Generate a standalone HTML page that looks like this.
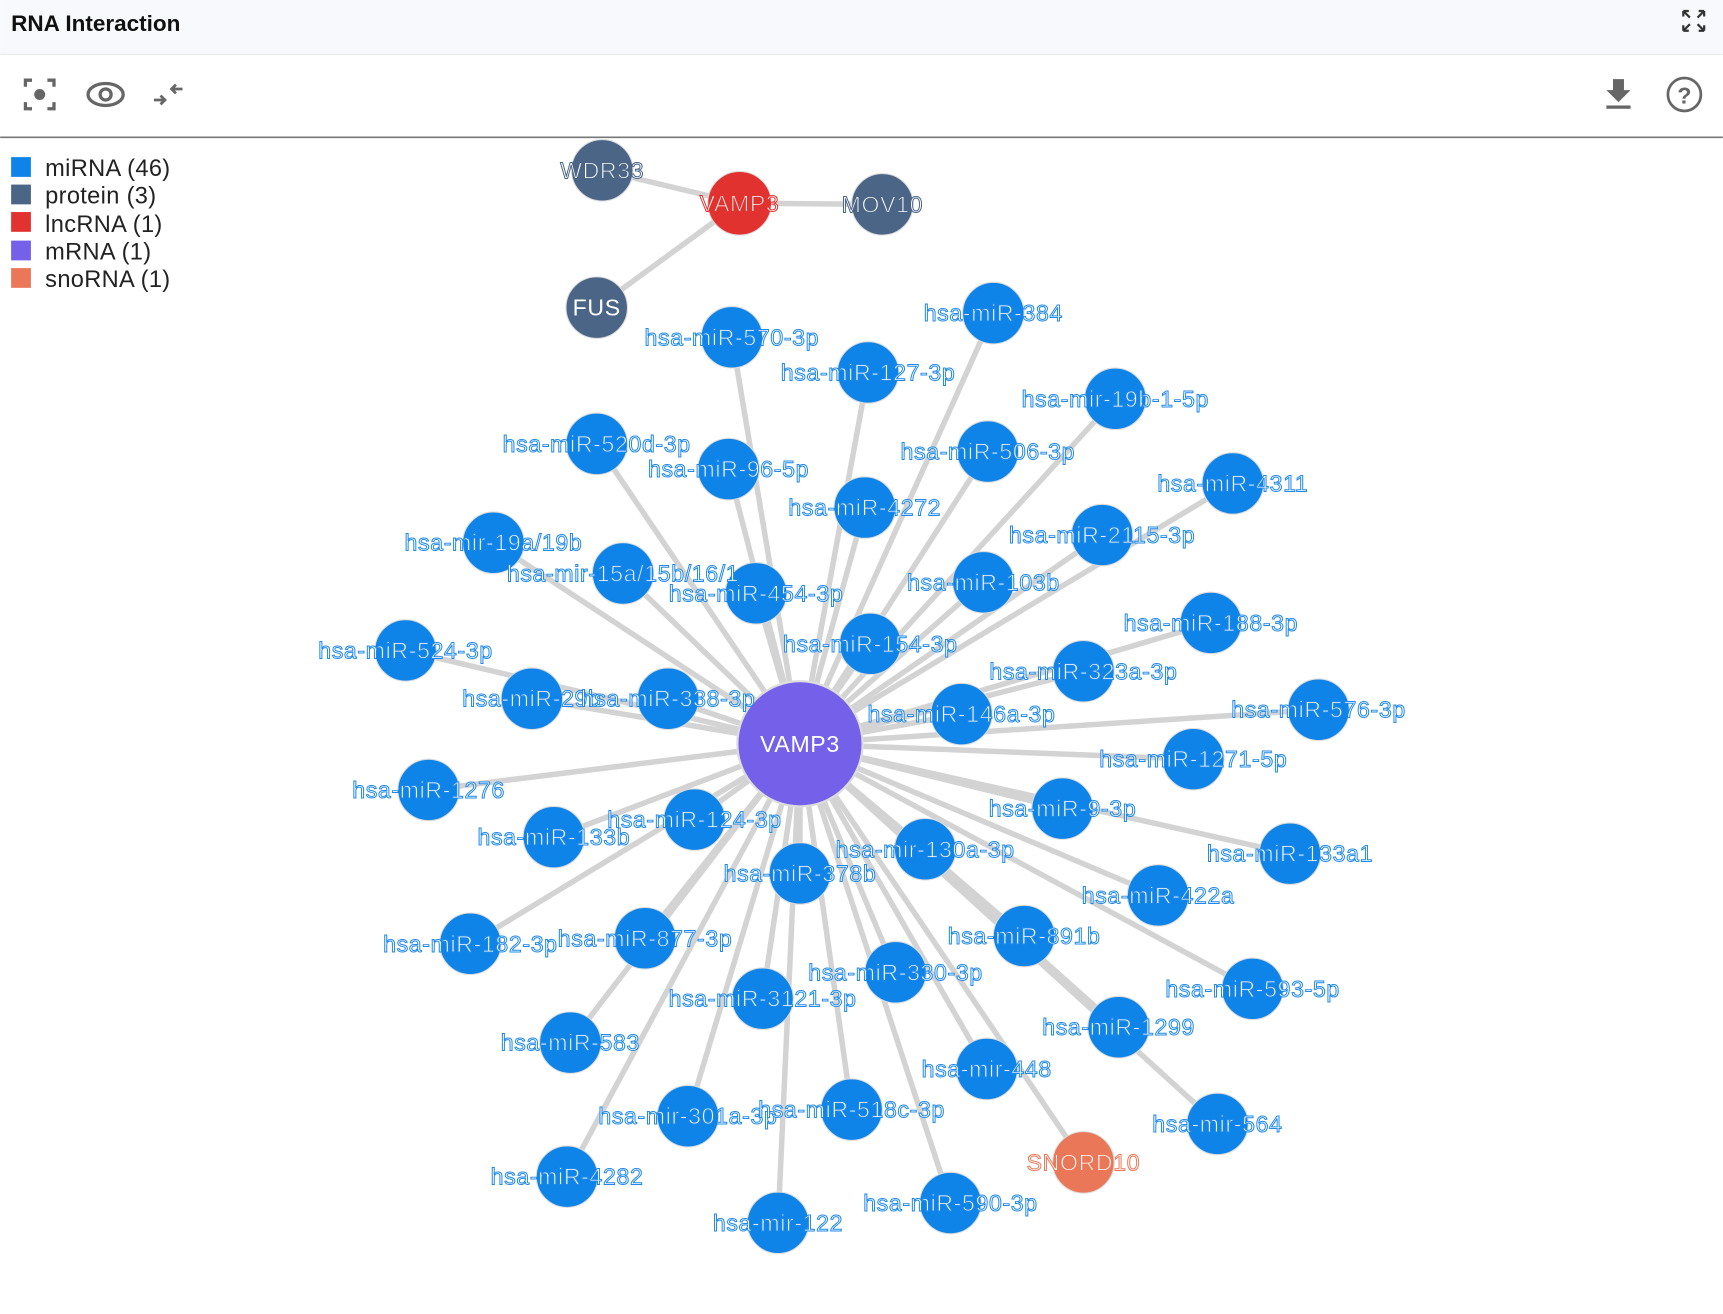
<!DOCTYPE html>
<html><head><meta charset="utf-8"><style>
html,body{margin:0;padding:0;background:#fff;width:1723px;height:1314px;overflow:hidden}
svg{display:block}
text{font-family:"Liberation Sans",Arial,sans-serif}
.ml{font-size:21px;letter-spacing:0.6px;fill:#fff;stroke:#1f88ea;stroke-width:0.9px;text-anchor:middle;dominant-baseline:central}
.e{stroke:#d3d3d3;stroke-width:5}
</style></head><body>
<svg width="1723" height="1314" viewBox="0 0 1568 1196" xmlns="http://www.w3.org/2000/svg">
<rect x="0" y="0" width="1568" height="49" fill="#f7f9fd"/>
<line x1="0" y1="49.5" x2="1568" y2="49.5" stroke="#e3e6ec"/>
<text x="10" y="28" font-size="20.5" font-weight="bold" fill="#111">RNA Interaction</text>
<g stroke="#333" stroke-width="2" fill="none">
<path d="M1532 10 l6 6 M1532 10 h5 M1532 10 v5 M1551 10 l-6 6 M1551 10 h-5 M1551 10 v5 M1532 28 l6 -6 M1532 28 h5 M1532 28 v-5 M1551 28 l-6 -6 M1551 28 h-5 M1551 28 v-5"/>
</g>
<line x1="0" y1="125" x2="1568" y2="125" stroke="#777" stroke-width="1.5"/>
<g stroke="#666" stroke-width="3" fill="none">
<path d="M23 79 v-6 h6 M43 73 h6 v6 M49 93 v6 h-6 M29 99 h-6 v-6"/>
<ellipse cx="96" cy="86" rx="16" ry="10"/>
<circle cx="96" cy="86" r="5"/>
<path d="M140 91 h10 M146 87 l4 4 -4 4 M166 81 h-10 M160 77 l-4 4 4 4" stroke-width="2.5"/>
</g>
<circle cx="36" cy="86" r="5" fill="#666"/>
<g fill="#666"><path d="M1468 72 h10 v10 h6 l-11 11 -11 -11 h6z"/><rect x="1462" y="96" width="22" height="3"/></g>
<circle cx="1533" cy="86" r="15" fill="none" stroke="#666" stroke-width="2.5"/>
<text x="1533" y="94" font-size="21" font-weight="bold" fill="#666" text-anchor="middle">?</text>
<g font-size="21.5" fill="#222" letter-spacing="0.3">
<rect x="10" y="143" width="18" height="18" fill="#0f84e8"/><text x="41" y="160">miRNA (46)</text>
<rect x="10" y="168" width="18" height="18" fill="#4a6585"/><text x="41" y="185">protein (3)</text>
<rect x="10" y="193" width="18" height="18" fill="#e1322f"/><text x="41" y="211">lncRNA (1)</text>
<rect x="10" y="219" width="18" height="18" fill="#7560ea"/><text x="41" y="236">mRNA (1)</text>
<rect x="10" y="244" width="18" height="18" fill="#ea7858"/><text x="41" y="261">snoRNA (1)</text>
</g>
<g class="e">
<line x1="673" y1="185" x2="548" y2="155"/><line x1="673" y1="185" x2="803" y2="186"/><line x1="673" y1="185" x2="543" y2="280"/>
</g>
<g id="edges" class="e"></g>
<g id="nodes"></g>
<circle cx="548" cy="155" r="28" fill="#4a6585" stroke="#ddd"/>
<circle cx="803" cy="186" r="28" fill="#4a6585" stroke="#ddd"/>
<circle cx="543" cy="280" r="28" fill="#4a6585" stroke="#ddd"/>
<circle cx="673" cy="185" r="29" fill="#e1322f" stroke="#ddd"/>
<g font-size="21" letter-spacing="0.6" text-anchor="middle" dominant-baseline="central">
<text x="548" y="155" fill="#fff" stroke="#4a6585" stroke-width="0.9">WDR33</text>
<text x="803" y="186" fill="#fff" stroke="#4a6585" stroke-width="0.9">MOV10</text>
<text x="543" y="280" fill="#fff">FUS</text>
<text x="673" y="185" fill="#fff" stroke="#e1322f" stroke-width="0.9">VAMP3</text>
</g>
<script>
var N=[
["hsa-miR-570-3p",666,307],["hsa-miR-384",904,285],["hsa-miR-127-3p",790,339],["hsa-mir-19b-1-5p",1015,363],
["hsa-miR-520d-3p",543,404],["hsa-miR-96-5p",663,427],["hsa-miR-506-3p",899,411],["hsa-miR-4311",1122,440],
["hsa-miR-4272",787,462],["hsa-mir-19a/19b",449,494],["hsa-miR-2115-3p",1003,487],["hsa-mir-15a/15b/16/1",567,522],
["hsa-miR-454-3p",688,540],["hsa-miR-103b",895,530],["hsa-miR-188-3p",1102,567],["hsa-miR-524-3p",369,592],
["hsa-miR-154-3p",792,586],["hsa-miR-323a-3p",986,611],["hsa-miR-29b",484,636],["hsa-miR-338-3p",608,636],
["hsa-miR-146a-3p",875,650],["hsa-miR-576-3p",1200,646],["hsa-miR-1271-5p",1086,691],["hsa-miR-1276",390,719],
["hsa-miR-124-3p",632,746],["hsa-miR-133b",504,762],["hsa-miR-9-3p",967,736],["hsa-mir-130a-3p",842,773],
["hsa-miR-133a1",1174,777],["hsa-miR-378b",728,795],["hsa-miR-422a",1054,815],["hsa-miR-182-3p",428,859],
["hsa-miR-877-3p",587,854],["hsa-miR-891b",932,852],["hsa-miR-593-5p",1140,900],["hsa-miR-330-3p",815,885],
["hsa-miR-3121-3p",694,909],["hsa-miR-1299",1018,935],["hsa-miR-583",519,949],["hsa-mir-448",898,973],
["hsa-mir-301a-3p",626,1016],["hsa-miR-518c-3p",775,1010],["hsa-mir-564",1108,1023],["hsa-miR-4282",516,1071],
["hsa-mir-122",708,1113],["hsa-miR-590-3p",865,1095]];
var S="http://www.w3.org/2000/svg",E=document.getElementById("edges"),G=document.getElementById("nodes");
function mk(t,a,p){var e=document.createElementNS(S,t);for(var k in a)e.setAttribute(k,a[k]);p.appendChild(e);return e;}
N.concat([["SNORD10",986,1058]]).forEach(function(n){mk("line",{x1:728,y1:677,x2:n[1],y2:n[2]},E);});
N.forEach(function(n){mk("circle",{cx:n[1],cy:n[2],r:28,fill:"#0f84e8",stroke:"#ddd"},G);});
mk("circle",{cx:986,cy:1058,r:28,fill:"#ea7858",stroke:"#ddd"},G);
mk("circle",{cx:728,cy:677,r:57,fill:"#7560ea",stroke:"#ddd","stroke-width":2},G);
N.forEach(function(n){var t=mk("text",{x:n[1],y:n[2],"class":"ml"},G);t.textContent=n[0];});
var t=mk("text",{x:986,y:1058,"class":"ml"},G);t.style.stroke="#ea7858";t.textContent="SNORD10";
t=mk("text",{x:728,y:677,"font-size":21,"letter-spacing":0.6,fill:"#fff","text-anchor":"middle","dominant-baseline":"central"},G);t.textContent="VAMP3";
</script>
</svg>
</body></html>
